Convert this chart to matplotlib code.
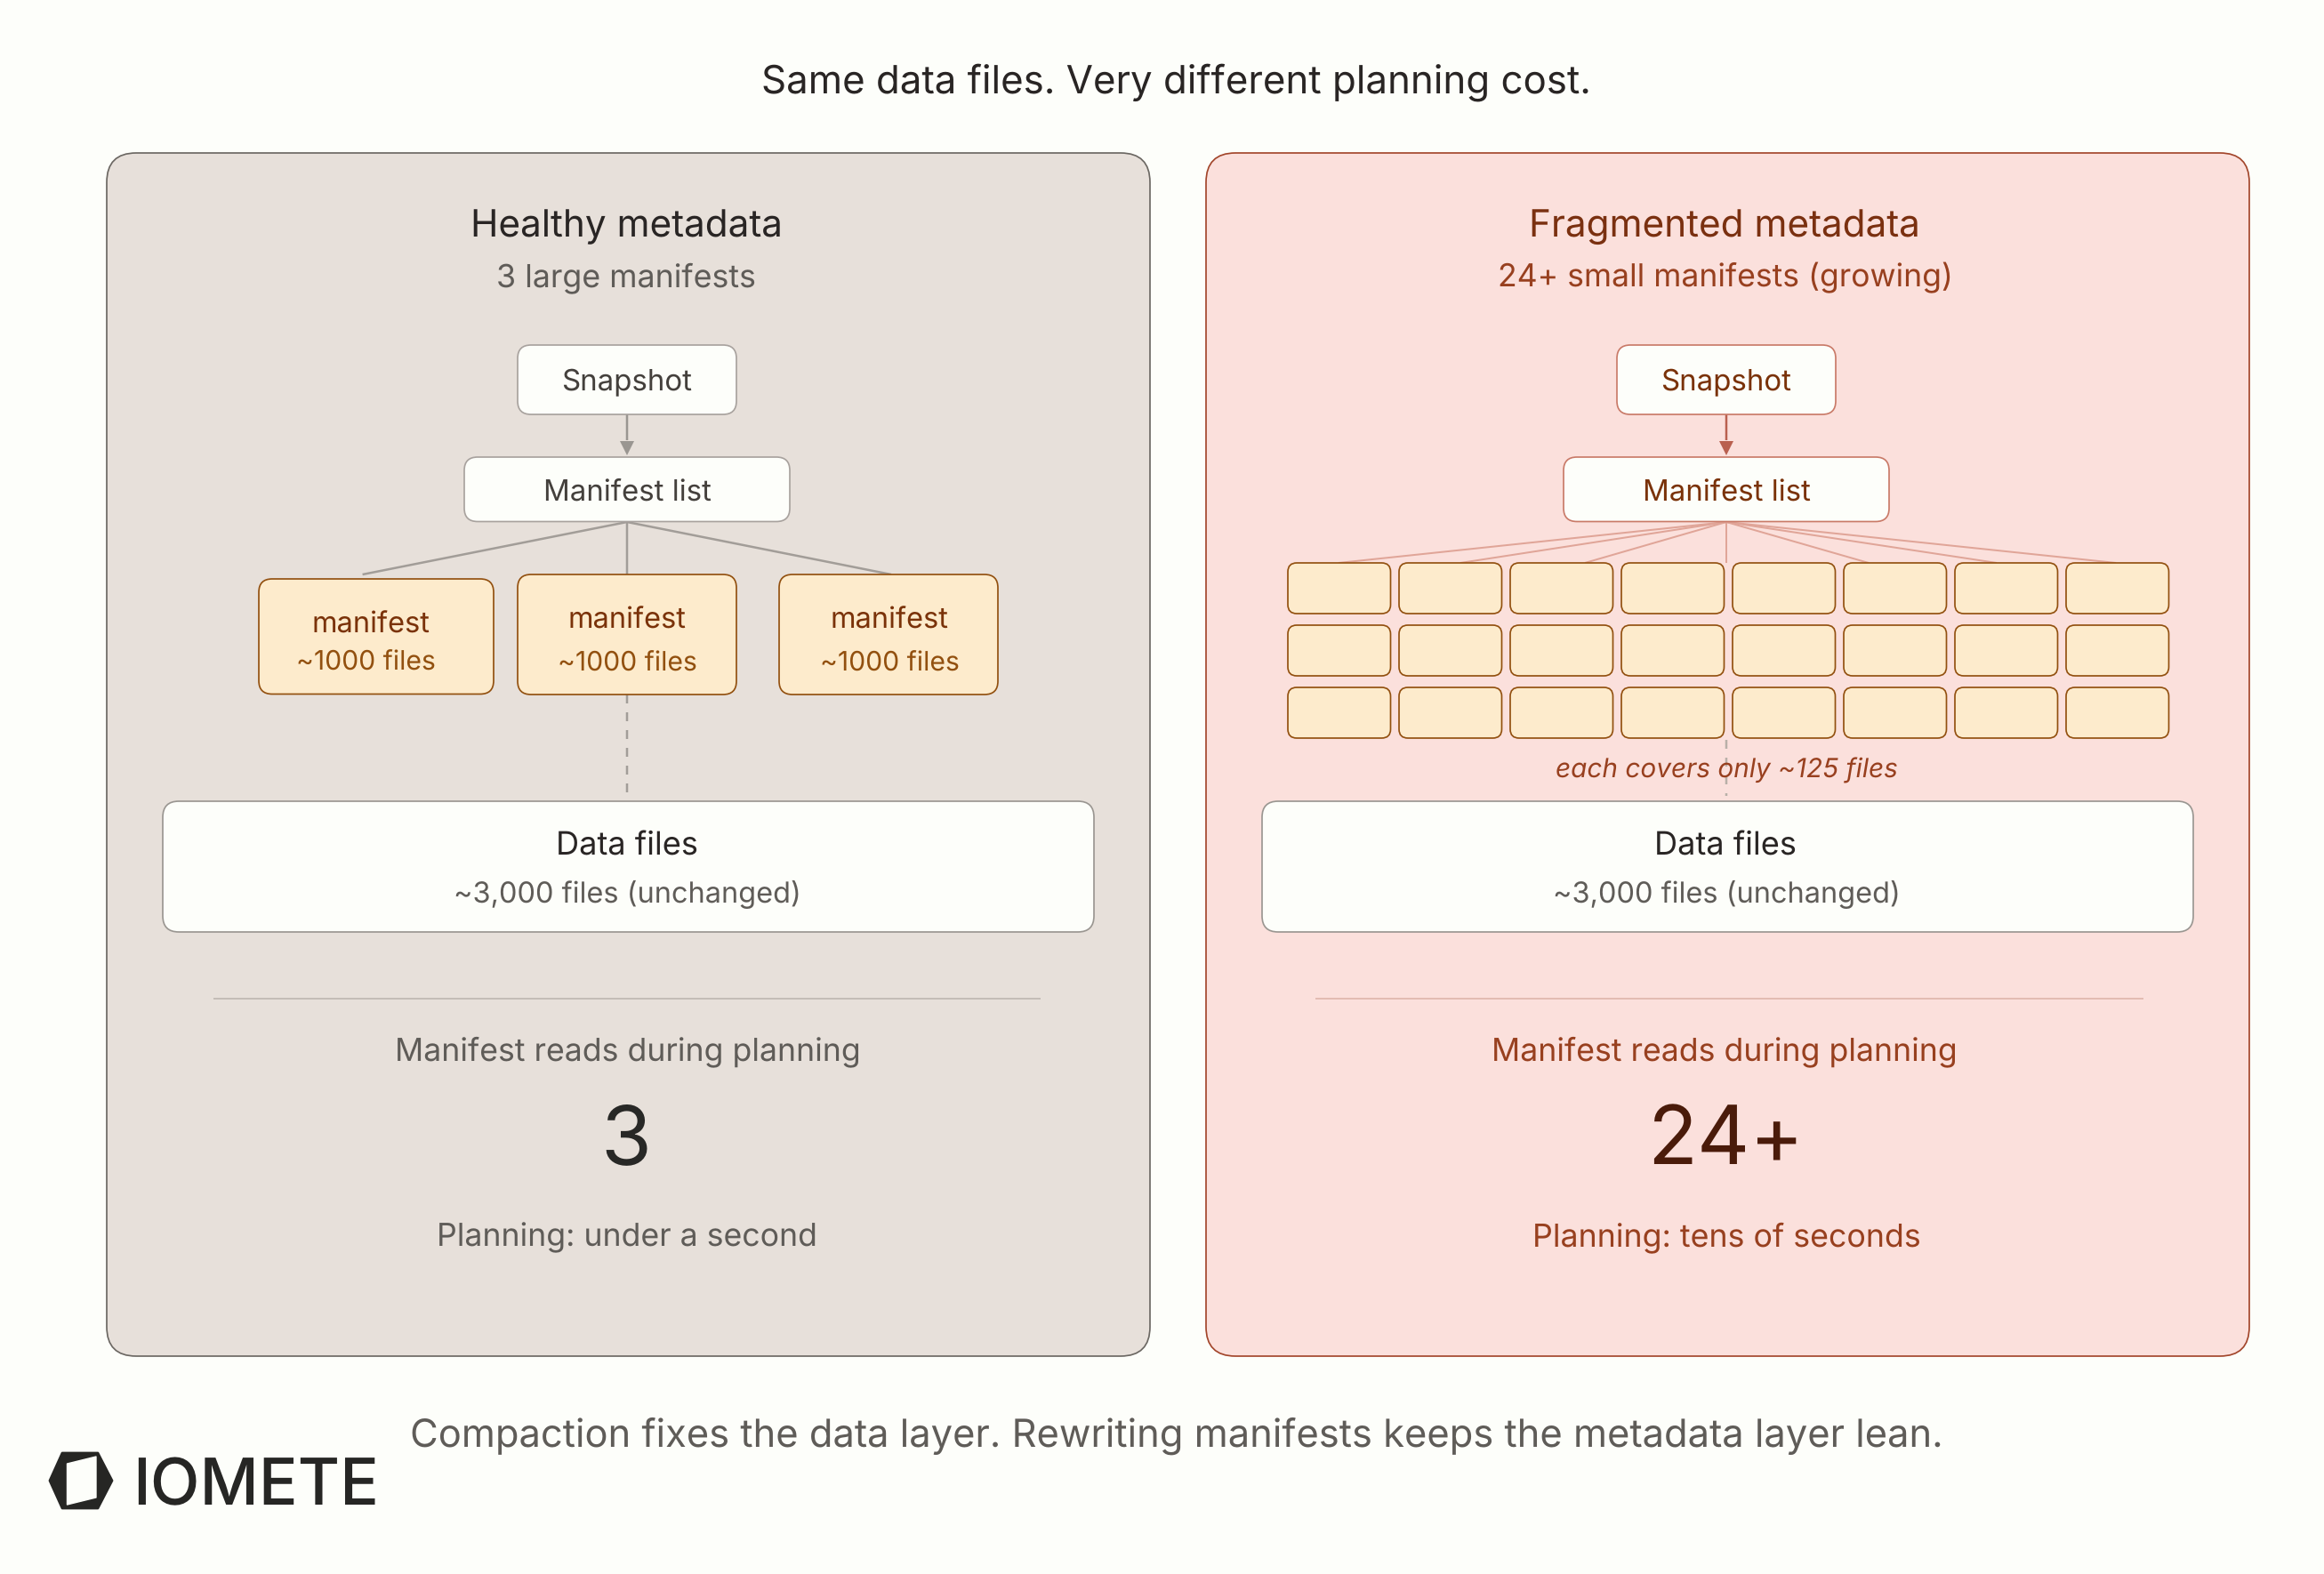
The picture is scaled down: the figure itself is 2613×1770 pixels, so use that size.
import matplotlib
matplotlib.use("Agg")
import matplotlib.pyplot as plt
from matplotlib.patches import FancyBboxPatch, Polygon

plt.rcParams['font.family'] = ['Inter', 'DejaVu Sans']
plt.rcParams['text.hinting'] = 'none'

W, H = 2613, 1770
BG = '#FDFEFA'
fig = plt.figure(figsize=(W/100, H/100), dpi=100, facecolor=BG)
ax = fig.add_axes([0, 0, 1, 1])
ax.set_xlim(0, W); ax.set_ylim(H, 0); ax.axis('off')
rend = fig.canvas.get_renderer()

title = "Same data files. Very different planning cost."
footer = "Compaction fixes the data layer. Rewriting manifests keeps the metadata layer lean."
brand = "IOMETE"
panel_titles = ["Healthy metadata", "Fragmented metadata"]
panel_subs = ["3 large manifests", "24+ small manifests (growing)"]
read_counts = ["3", "24+"]
planning = ["Planning: under a second", "Planning: tens of seconds"]
reads_label = "Manifest reads during planning"
data_title = "Data files"
data_sub = "~3,000 files (unchanged)"
note = "each covers only ~125 files"
manifest_label = "manifest"
manifest_sub = "~1000 files"

def box(x0, y0, x1, y1, r, fc, ec, lw=1.7, z=2):
    ax.add_patch(FancyBboxPatch((x0, y0), x1-x0, y1-y0,
                 boxstyle=f"round,pad=0,rounding_size={r}", fc=fc, ec=ec,
                 lw=lw*0.72, zorder=z))

def txt(s, cx, base, width, color, z=5, **kw):
    """Centred text whose size is fitted to the width it has in the reference."""
    t = ax.text(cx, base, s, ha='center', va='baseline', color=color, fontsize=20, zorder=z, **kw)
    w = t.get_window_extent(rend).width
    t.set_fontsize(20*width/w)
    return t

def line(x0, y0, x1, y1, c, lw=2.5, z=1, **kw):
    ax.plot([x0, x1], [y0, y1], color=c, lw=lw*0.72, zorder=z, solid_capstyle='butt', **kw)

# title and footer
txt(title, 1322.5, 105, 933, '#292524')
txt(footer, 1322.5, 1627, 1724, '#5F5C58')

# logo
ax.add_patch(Polygon([(70,1634),(110,1634),(126,1665),(110,1696),(70,1696),(56,1665)],
             closed=True, fc='#262624', ec='#262624', lw=2, joinstyle='round', zorder=3))
ax.add_patch(Polygon([(75.5,1646),(108,1638),(108,1684),(75.5,1692)],
             closed=True, fc=BG, ec=BG, lw=1, joinstyle='round', zorder=4))
txt(brand, 287.5, 1692, 277, '#262624', fontweight='medium')

# panels
PANELS = [
  dict(x0=120, x1=1293, cx=705, fc='#E7E0DA', ec='#6B6762', title='#292524', sub='#5F5C58',
       node='#44403C', nodeec='#A8A29E', arrow='#9A9691', fan='#A29D98', dash='#A29D98',
       div='#BEB7B1', lab='#5F5C58', num='#282826'),
  dict(x0=1356, x1=2529, cx=1941, fc='#FBE0DC', ec='#A2452A', title='#7A3010', sub='#98401F',
       node='#7A3209', nodeec='#C97A68', arrow='#B9604F', fan='#E0A598', dash='#B8B0A8',
       div='#DFB6AC', lab='#98401F', num='#4A1B0A'),
]
widths_title = [351, 440]
widths_sub = [292, 512]
widths_plan = [428, 437]
widths_num = [57, 176]
offs_sub = [-1, -1]
offs_reads = [1, -2]
offs_data = [0, -1]
MFC, MEC = '#FDEBCC', '#92500F'

for i, p in enumerate(PANELS):
    c = p['cx']
    box(p['x0'], 172, p['x1'], 1525, 33, p['fc'], p['ec'], lw=1.7, z=0)
    txt(panel_titles[i], c-1-i, 266, widths_title[i], p['title'])
    txt(panel_subs[i], c+offs_sub[i], 322, widths_sub[i], p['sub'])
    box(c-123, 388, c+123, 466, 15, BG, p['nodeec'])
    txt("Snapshot", c, 439, 147, p['node'])
    line(c, 466, c, 495, p['arrow'])
    ax.add_patch(Polygon([(c-8, 496), (c+8, 496), (c, 512)], closed=True, fc=p['arrow'], ec='none', zorder=1))
    box(c-183, 514, c+183, 586.5, 15, BG, p['nodeec'])
    txt("Manifest list", c, 562.5, 189, p['node'])
    # data box
    box(c-522, 901, c+525, 1048, 18, BG, '#9A9691')
    txt(data_title, c+offs_data[i], 962, 160, '#292524')
    txt(data_sub, c, 1015, 391, '#5F5C58')
    line(c-465 if i == 0 else c-462, 1123, c+465 if i == 0 else c+469, 1123, p['div'], lw=1.7)
    txt(reads_label, c+offs_reads[i], 1192, 524, p['lab'])
    txt(read_counts[i], c-1, 1309, widths_num[i], p['num'])
    txt(planning[i], c, 1401, widths_plan[i], p['lab'])

# left: three large manifests
LC = PANELS[0]['cx']
L_boxes = [(291, 555, 651, 780.5), (582, 828, 646, 781), (876, 1122, 646, 781)]
L_text = [(417, 711.5, 411.5, 754), (705, 707, 705, 755), (1000, 707, 1000, 755)]
for (x0, x1, y0, y1), (tx, ty, sx, sy) in zip(L_boxes, L_text):
    box(x0, y0, x1, y1, 15, MFC, MEC, z=3)
    txt(manifest_label, tx, ty, 133, '#7A3209')
    txt(manifest_sub, sx, sy, 157, '#92500F')
for tx, ty in [(407.6, 646), (LC, 646), (1002, 646)]:
    line(LC, 587, tx, ty, PANELS[0]['fan'])
line(LC, 781, LC, 895, PANELS[0]['dash'], linestyle=(0, (4, 4)))

# right: grid of small manifests
RC = PANELS[1]['cx']
for y0 in [633, 703, 773]:
    for k in range(8):
        x0 = 1448 + k*125
        box(x0, y0, x0+115.5, y0+57, 10, MFC, MEC, z=3)
for tx in [1505, 1642, 1782, 1941, 2101, 2245, 2379]:
    line(RC, 587, tx, 633, PANELS[1]['fan'], lw=2)
line(RC, 832, RC, 895, PANELS[1]['dash'], linestyle=(0, (4, 4)))
txt(note, RC, 874, 385, '#98401F', style='italic')

fig.savefig('out.png', dpi=100, facecolor=BG)
